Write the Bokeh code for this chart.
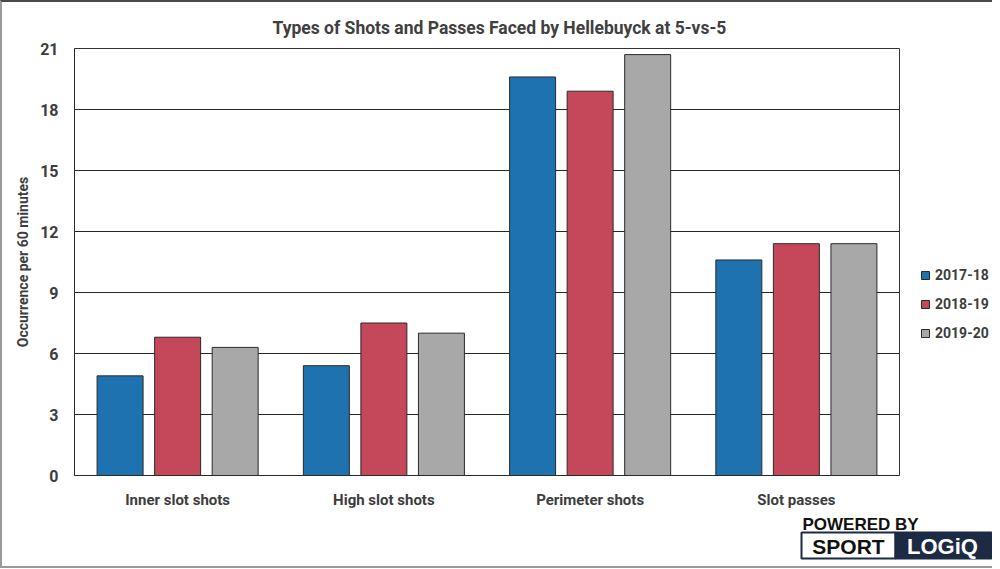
from bokeh.plotting import figure
from bokeh.models import ColumnDataSource, FactorRange, Range1d, FixedTicker, Legend, LegendItem
from bokeh.transform import dodge
from bokeh.layouts import column, row
from bokeh.core.properties import value
from bokeh.embed import file_html
from bokeh.resources import INLINE

categories = ["Inner slot shots", "High slot shots", "Perimeter shots", "Slot passes"]
seasons = ["2017-18", "2018-19", "2019-20"]
v2017_18 = [4.9, 5.4, 19.6, 10.6]
v2018_19 = [6.8, 7.5, 18.9, 11.4]
v2019_20 = [6.3, 7.0, 20.7, 11.4]
y_ticks = [0, 3, 6, 9, 12, 15, 18, 21]
title_text = "Types of Shots and Passes Faced by Hellebuyck at 5-vs-5"
y_label = "Occurrence per 60 minutes"

colors = ["#1F72B0", "#C4485A", "#A8A8A8"]
FONT = "Roboto"
TXT = "#3d3d3d"
EDGE = "#2a2a2a"

src = ColumnDataSource(dict(cat=categories, a=v2017_18, b=v2018_19, c=v2019_20))

p = figure(width=903, height=510,
           x_range=FactorRange(factors=categories, range_padding=0),
           y_range=Range1d(0, 21),
           output_backend="svg", toolbar_location=None,
           min_border_left=72, min_border_right=6,
           min_border_top=46, min_border_bottom=37)
p.frame_align = False

for key, off, col in zip(["a", "b", "c"], [-0.279, 0.0, 0.279], colors):
    p.vbar(x=dodge("cat", off, range=p.x_range), top=key, width=0.223, source=src,
           fill_color=col, line_color=EDGE, line_width=1)

p.yaxis.ticker = FixedTicker(ticks=y_ticks)
for ax in (p.xaxis[0], p.yaxis[0]):
    ax.major_tick_line_color = None
    ax.minor_tick_line_color = None
    ax.major_tick_out = 0
    ax.major_tick_in = 0
    ax.axis_line_color = EDGE
    ax.major_label_text_font = FONT
    ax.major_label_text_font_style = "bold"
    ax.major_label_text_color = TXT
    ax.major_label_text_font_size = "15px"

p.yaxis.major_label_text_font_size = "16px"
p.yaxis.major_label_standoff = 16
p.xaxis.major_label_standoff = 15
p.yaxis.axis_label = y_label
p.yaxis.axis_label_text_font = FONT
p.yaxis.axis_label_text_font_style = "bold"
p.yaxis.axis_label_text_font_size = "14px"
p.yaxis.axis_label_text_color = TXT
p.yaxis.axis_label_standoff = 6

p.xgrid.grid_line_color = None
p.ygrid.grid_line_color = "#262626"
p.ygrid.grid_line_width = 1
p.outline_line_color = "#333333"
p.outline_line_alpha = 1

p.title.text = title_text
p.title.align = "left"
p.title.text_font = FONT
p.title.text_font_style = "bold"
p.title.text_font_size = "17.5px"
p.title.text_color = "#404040"
p.title.standoff = 22
p.title.offset = 198

# legend panel (a real Legend on its own small plot; its bars lie outside the view)
lg = figure(width=87, height=510, x_range=Range1d(0, 1), y_range=Range1d(0, 1),
            output_backend="svg", toolbar_location=None, min_border=0,
            x_axis_type=None, y_axis_type=None)
lg.frame_align = False
lg.outline_line_color = None
lg.grid.visible = False
leg_renderers = [lg.vbar(x=[5], top=[1], width=0.1, fill_color=c, line_color=EDGE) for c in colors]
legend = Legend(items=[LegendItem(label=s, renderers=[r]) for s, r in zip(seasons, leg_renderers)],
                location=(15, 169), glyph_width=10, glyph_height=10, label_standoff=5,
                label_text_font=FONT, label_text_font_style="bold", label_text_font_size="14px",
                label_text_color=TXT, label_height=21, spacing=8, padding=0, margin=0,
                border_line_color=None, background_fill_alpha=0)
lg.add_layout(legend)

# logo strip
lf = figure(width=990, height=54, x_range=Range1d(2, 992), y_range=Range1d(566, 512),
            output_backend="svg", toolbar_location=None, min_border=0,
            x_axis_type=None, y_axis_type=None)
lf.frame_align = False
lf.outline_line_color = None
lf.grid.visible = False
NAVY = "#1c2a44"
lf.quad(left=[801], right=[895], top=[532], bottom=[558], fill_color="white", line_color=NAVY, line_width=2)
lf.quad(left=[895], right=[991], top=[532], bottom=[558], fill_color=NAVY, line_color=NAVY, line_width=2)
lf.text(x=[802], y=[524], text=["POWERED BY"], text_font=value("Liberation Sans"), text_font_style="bold",
        text_font_size="17px", text_baseline="middle", text_color="#111111")
lf.text(x=[848], y=[546], text=["SPORT"], text_font=value("Liberation Sans"), text_font_style="bold",
        text_font_size="21px", text_baseline="middle", text_align="center", text_color="#111111")
lf.text(x=[942], y=[546], text=["LOGiQ"], text_font=value("Liberation Sans"), text_font_style="bold",
        text_font_size="22px", text_baseline="middle", text_align="center", text_color="white")

layout = column(row(p, lg, spacing=0), lf, spacing=0,
                styles={"border-top": "2px solid #4a4a4a", "border-left": "2px solid #9a9a9a",
                        "border-bottom": "2px solid #9a9a9a"})

open("out.html", "w").write(file_html(layout, INLINE))
